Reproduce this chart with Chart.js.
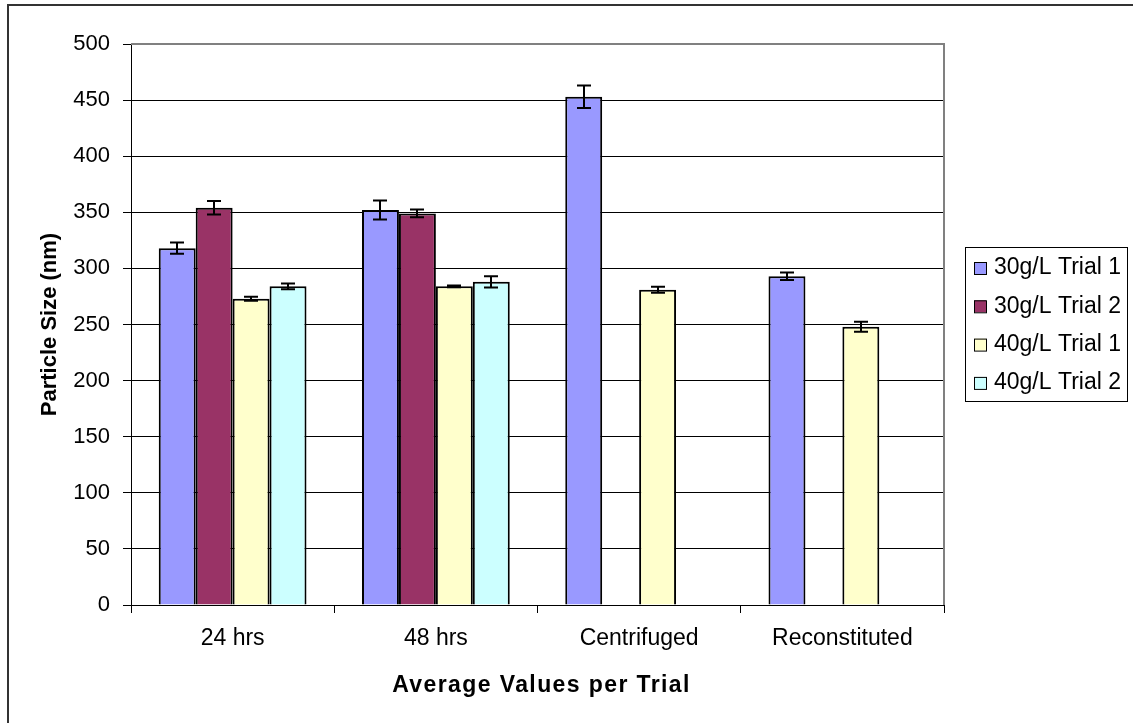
<!DOCTYPE html>
<html>
<head>
<meta charset="utf-8">
<script src="https://cdn.jsdelivr.net/npm/chart.js@4"></script>
<style>
    body { margin: 0; background: #fff; }
    #chart { display: block; }
</style>
</head>
<body>
<canvas id="chart" width="1133" height="723"></canvas>
<script>
// Data
const categories = ['24 hrs', '48 hrs', 'Centrifuged', 'Reconstituted'];
const seriesNames = ['30g/L Trial 1', '30g/L Trial 2', '40g/L Trial 1', '40g/L Trial 2'];
const trial30a = [318, 352, 453, 293];
const trial30b = [354, 349, null, null];
const trial40a = [273, 284, 281, 248];
const trial40b = [284, 288, null, null];
// error bar half-heights
const err30a = [5, 8.5, 10, 3.3];
const err30b = [6, 3.5, null, null];
const err40a = [1.8, 0.8, 2.7, 4.5];
const err40b = [2.5, 5, null, null];
const yTicks = [0, 50, 100, 150, 200, 250, 300, 350, 400, 450, 500];
const xTitle = 'Average Values per Trial';

const colors = ['#9999FF', '#993366', '#FFFFCC', '#CCFFFF'];
const values = [trial30a, trial30b, trial40a, trial40b];
const errors = [err30a, err30b, err40a, err40b];
const FONT = "'Liberation Sans', Arial, sans-serif";

// Error bars
const errorBars = {
    id: 'errorBars',
    afterDatasetsDraw(chart) {
        const ctx = chart.ctx;
        const y = chart.scales.y;
        ctx.save();
        ctx.strokeStyle = '#000';
        ctx.lineWidth = 2;
        chart.data.datasets.forEach((ds, i) => {
            const meta = chart.getDatasetMeta(i);
            meta.data.forEach((bar, j) => {
                const v = ds.data[j];
                const e = errors[i][j];
                if (v == null || e == null) return;
                const top = y.getPixelForValue(v + e);
                const bot = y.getPixelForValue(v - e);
                const x = Math.round(bar.x);
                ctx.beginPath();
                ctx.moveTo(x, top); ctx.lineTo(x, bot);
                ctx.moveTo(x - 7, top); ctx.lineTo(x + 7, top);
                ctx.moveTo(x - 7, bot); ctx.lineTo(x + 7, bot);
                ctx.stroke();
            });
        });
        ctx.restore();
    }
};

// Frame, plot border, x title and legend box
const frame = {
    id: 'frame',
    beforeDraw(chart) {
        const ctx = chart.ctx;
        ctx.save();
        ctx.fillStyle = '#fff';
        ctx.fillRect(0, 0, chart.width, chart.height);
        ctx.strokeStyle = '#333';
        ctx.lineWidth = 2;
        ctx.strokeRect(8, 5, 1300, 1000);
        ctx.restore();
    },
    afterDraw(chart) {
        const ctx = chart.ctx;
        const a = chart.chartArea;
        ctx.save();
        ctx.strokeStyle = '#808080';
        ctx.lineWidth = 2;
        ctx.beginPath();
        ctx.moveTo(a.left, a.top);
        ctx.lineTo(a.right, a.top);
        ctx.lineTo(a.right, a.bottom);
        ctx.stroke();

        // x axis title (spaced out like the original)
        ctx.font = 'bold 23px ' + FONT;
        ctx.letterSpacing = '1.4px';
        ctx.textAlign = 'center';
        ctx.textBaseline = 'alphabetic';
        ctx.fillStyle = '#000';
        ctx.fillText(xTitle, (a.left + a.right) / 2 + 4, 692);
        ctx.letterSpacing = '0px';

        // legend
        const lx = 965, ly = 247, lw = 162, lh = 154;
        ctx.strokeStyle = '#000';
        ctx.lineWidth = 1;
        ctx.strokeRect(lx + 0.5, ly + 0.5, lw, lh);
        ctx.font = '23px ' + FONT;
        ctx.textAlign = 'left';
        ctx.textBaseline = 'middle';
        seriesNames.forEach((name, i) => {
            const cy = ly + 21 + i * 38.3;
            ctx.fillStyle = colors[i];
            ctx.fillRect(974, cy - 6, 12, 12);
            ctx.strokeRect(974.5, cy - 5.5, 12, 12);
            ctx.fillStyle = '#000';
            ctx.fillText(name, 994, cy);
        });
        ctx.restore();
    }
};

window.onload = function() {
    const ctx = document.getElementById('chart').getContext('2d');
    new Chart(ctx, {
        type: 'bar',
        data: {
            labels: categories,
            datasets: seriesNames.map((name, i) => ({
                label: name,
                data: values[i],
                backgroundColor: colors[i],
                borderColor: '#000',
                borderWidth: 2,
                categoryPercentage: 0.727,
                barPercentage: 1
            }))
        },
        options: {
            responsive: false,
            animation: false,
            devicePixelRatio: 1,
            layout: { padding: { left: 0, top: 44, right: 189, bottom: 0 } },
            plugins: {
                legend: { display: false },
                tooltip: { enabled: false }
            },
            scales: {
                x: {
                    afterFit: s => { s.height = 118; },
                    grid: { offset: true, drawOnChartArea: false, drawTicks: true, tickLength: 8, color: '#000' },
                    border: { color: '#000', width: 1 },
                    ticks: { color: '#000', font: { family: FONT, size: 23 }, padding: 12, maxRotation: 0 },
                    title: { display: false }
                },
                y: {
                    min: 0,
                    max: 500,
                    afterFit: s => { s.width = 131; },
                    afterBuildTicks: s => { s.ticks = yTicks.map(v => ({ value: v })); },
                    grid: { color: '#000', lineWidth: 1, tickLength: 8 },
                    border: { color: '#000', width: 1 },
                    ticks: { color: '#000', font: { family: FONT, size: 22 }, padding: 13 },
                    title: {
                        display: true,
                        text: 'Particle Size (nm)',
                        color: '#000',
                        font: { family: FONT, size: 22, weight: 'bold' },
                        padding: { top: 37, bottom: 0 }
                    }
                }
            }
        },
        plugins: [frame, errorBars]
    });
};
</script>
</body>
</html>
